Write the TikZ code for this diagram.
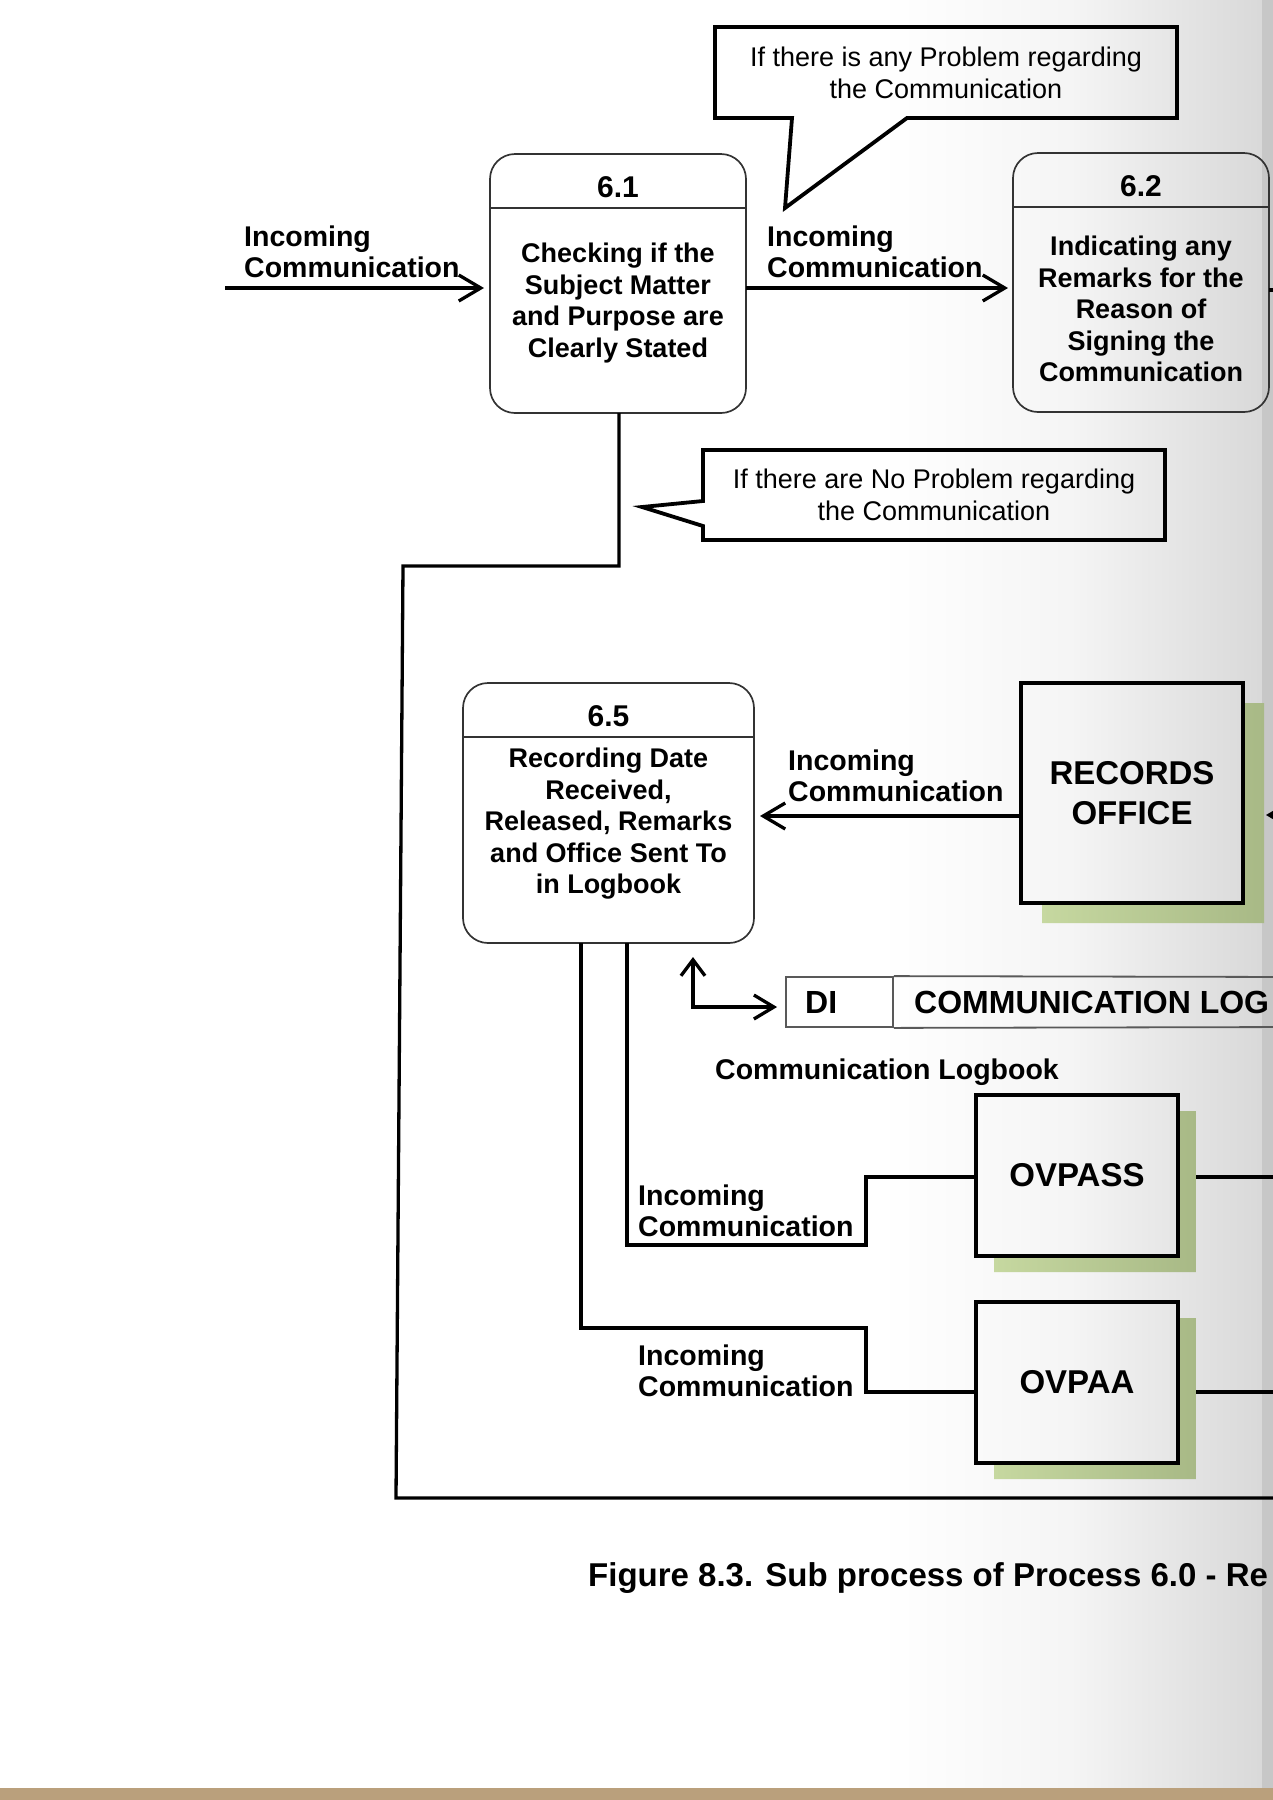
\documentclass[tikz,border=0pt]{standalone}
\usepackage{fontspec}
\setmainfont{Liberation Sans}
\usetikzlibrary{arrows.meta,calc}
\definecolor{shL}{RGB}{198,216,160}
\definecolor{shR}{RGB}{168,185,134}
\definecolor{bindtan}{RGB}{186,160,124}
\tikzset{
  proc/.style={draw=black!80, line width=1.7pt, rounded corners=25pt, inner sep=0pt, outer sep=0pt},
  hdrline/.style={draw=black!80, line width=1.7pt},
  hdr/.style={font=\fontsize{30}{34}\selectfont\bfseries, inner sep=0pt},
  ptext/.style={font=\fontsize{27}{31.5}\selectfont\bfseries, align=center, inner sep=0pt},
  flowlbl/.style={font=\fontsize{28.5}{31.5}\selectfont\bfseries, align=left, inner sep=0pt, anchor=west},
  conn/.style={line width=3.3pt, line join=miter},
  arr/.style={conn, -{Straight Barb[length=22pt,width=26pt]}},
  biarr/.style={conn, {Straight Barb[length=16pt,width=24pt]}-{Straight Barb[length=20pt,width=24pt]}},
  callout/.style={draw, line width=3.8pt, line join=miter},
  calltext/.style={font=\fontsize{27}{32}\selectfont, align=center, inner sep=0pt},
  ent/.style={draw, line width=3.5pt, inner sep=0pt, outer sep=0pt, align=center, font=\fontsize{33}{40}\selectfont\bfseries},
  store/.style={draw=black!65, line width=1.8pt},
  storetext/.style={font=\fontsize{32}{36}\selectfont\bfseries, inner sep=0pt, anchor=west},
}
\begin{document}
\begin{tikzpicture}[x=1pt,y=-1pt]
\useasboundingbox (0,0) rectangle (1273,1800);
\clip (0,0) rectangle (1273,1800);
% page and lighting
\fill[white] (0,0) rectangle (1273,1800);
\shade[left color=white, right color=black!15, middle color=black!4] (880,0) rectangle (1262,1788);
\fill[black!22] (1262,0) rectangle (1273,1788);
\fill[bindtan] (0,1788) rectangle (1273,1800);
% shadows of the external entities
\shade[left color=shL,right color=shR] (1042,903) -- (1042,923) -- (1264,923) -- (1264,703) -- (1243,703) -- (1243,903) -- cycle;
\shade[left color=shL,right color=shR] (994,1256) -- (994,1272) -- (1196,1272) -- (1196,1111) -- (1178,1111) -- (1178,1256) -- cycle;
\shade[left color=shL,right color=shR] (994,1463) -- (994,1479) -- (1196,1479) -- (1196,1318) -- (1178,1318) -- (1178,1463) -- cycle;

% process 6.1
\node[proc, minimum width=256pt, minimum height=259pt] (p61) at (618,283.5) {};
\draw[hdrline] ([yshift=-54pt]p61.north west) -- ([yshift=-54pt]p61.north east);
\node[hdr] (p61h) at ([yshift=-33.5pt]p61.north) {6.1};
\node[ptext] (p61b) at (618,303) {Checking if the\\Subject Matter\\and Purpose are\\Clearly Stated};

% process 6.2
\node[proc, minimum width=256pt, minimum height=259pt] (p62) at (1141,282.5) {};
\draw[hdrline] ([yshift=-54pt]p62.north west) -- ([yshift=-54pt]p62.north east);
\node[hdr] (p62h) at ([yshift=-33pt]p62.north) {6.2};
\node[ptext] (p62b) at (1141,309) {Indicating any\\Remarks for the\\Reason of\\Signing the\\Communication};

% process 6.5
\node[proc, minimum width=291pt, minimum height=260pt] (p65) at (608.5,813) {};
\draw[hdrline] ([yshift=-54pt]p65.north west) -- ([yshift=-54pt]p65.north east);
\node[hdr] (p65h) at ([yshift=-33pt]p65.north) {6.5};
\node[ptext] (p65b) at (608.5,824) {Recording Date\\Received,\\Released, Remarks\\and Office Sent To\\in Logbook};

% external entities
\node[ent, minimum width=222pt, minimum height=220pt] (rec) at (1132,793) {RECORDS\\OFFICE};
\node[ent, minimum width=202pt, minimum height=161pt] (ovs) at (1077,1175.5) {OVPASS};
\node[ent, minimum width=202pt, minimum height=161pt] (ova) at (1077,1382.5) {OVPAA};

% data store
\node[store, minimum width=107pt, minimum height=50pt] (ds) at (839.5,1002) {};
\coordinate (dsnt) at (1300,977);
\coordinate (dssb) at (1300,1027);
\draw[store] (ds.north east) -- (dsnt);
\draw[store] (ds.south east) -- (dssb);
\node[storetext] (dsid) at (805,1002) {DI};
\node[storetext] (dsname) at (914,1002) {COMMUNICATION LOG};

% callouts
\draw[callout] (715,27) -- (1177,27) -- (1177,118) -- (907,118) -- (785,208) -- (792,118) -- (715,118) -- cycle;
\node[calltext] (c1t) at (946,72.5) {If there is any Problem regarding\\the Communication};
\draw[callout] (703,450) -- (1165,450) -- (1165,540) -- (703,540) -- (703,526) -- (642,507) -- (703,501) -- cycle;
\node[calltext] (c2t) at (934,495) {If there are No Problem regarding\\the Communication};

% flows
\coordinate (in61) at (225,288);
\draw[arr, shorten >=6pt] (in61) -- (in61 -| p61.west);
\node[flowlbl] (l1) at (244,252) {Incoming\\Communication};

\coordinate (a12) at (700,288);
\draw[arr, shorten >=5pt] (a12 -| p61.east) -- (a12 -| p62.west);
\node[flowlbl] (l2) at (767,252) {Incoming\\Communication};

\coordinate (p62out) at (1300,290);
\draw[conn] (p62out -| p62.east) -- (p62out);

\coordinate (k1) at (619,566);
\coordinate (k2) at (403,566);
\coordinate (k3) at (396,1498);
\coordinate (k4) at (1300,1498);
\draw[conn] (p61.south -| k1) -- (k1) -- (k2) -- (k3) -- (k4);

\coordinate (r1) at (900,816);
\draw[arr, shorten >=6pt] (r1 -| rec.west) -- (r1 -| p65.east);
\node[flowlbl] (l3) at (788,776) {Incoming\\Communication};
\coordinate (recin) at (1300,815);
\draw[arr] (recin) -- ([xshift=23pt]recin -| rec.east);

\coordinate (bd) at (693,1007);
\draw[biarr] ($(p65.south -| bd)+(0,14)$) -- (bd) -- ($(ds.west |- bd)+(-8,0)$);
\node[font=\fontsize{28.5}{32}\selectfont\bfseries, anchor=west, inner sep=0pt] (dslbl) at (715,1072.5) {Communication Logbook};

\coordinate (g1) at (627,1245);
\coordinate (g2) at (866,1245);
\coordinate (g3) at (866,1177);
\draw[conn] (p65.south -| g1) -- (g1) -- (g2) -- (g3) -- (g3 -| ovs.west);
\node[flowlbl] (l4) at (638,1211) {Incoming\\Communication};

\coordinate (h1) at (581,1328);
\coordinate (h2) at (866,1328);
\coordinate (h3) at (866,1392);
\draw[conn] (p65.south -| h1) -- (h1) -- (h2) -- (h3) -- (h3 -| ova.west);
\node[flowlbl] (l5) at (638,1371) {Incoming\\Communication};

\coordinate (ovsout) at (1300,1177);
\draw[conn] ([xshift=18pt]ovsout -| ovs.east) -- (ovsout);
\coordinate (ovaout) at (1300,1392);
\draw[conn] ([xshift=18pt]ovaout -| ova.east) -- (ovaout);

% caption
\node[font=\fontsize{33}{38}\selectfont\bfseries, anchor=west, inner sep=0pt] (cap) at (588,1578) {Figure 8.3. Sub process of Process 6.0 - Re};
\end{tikzpicture}
\end{document}
